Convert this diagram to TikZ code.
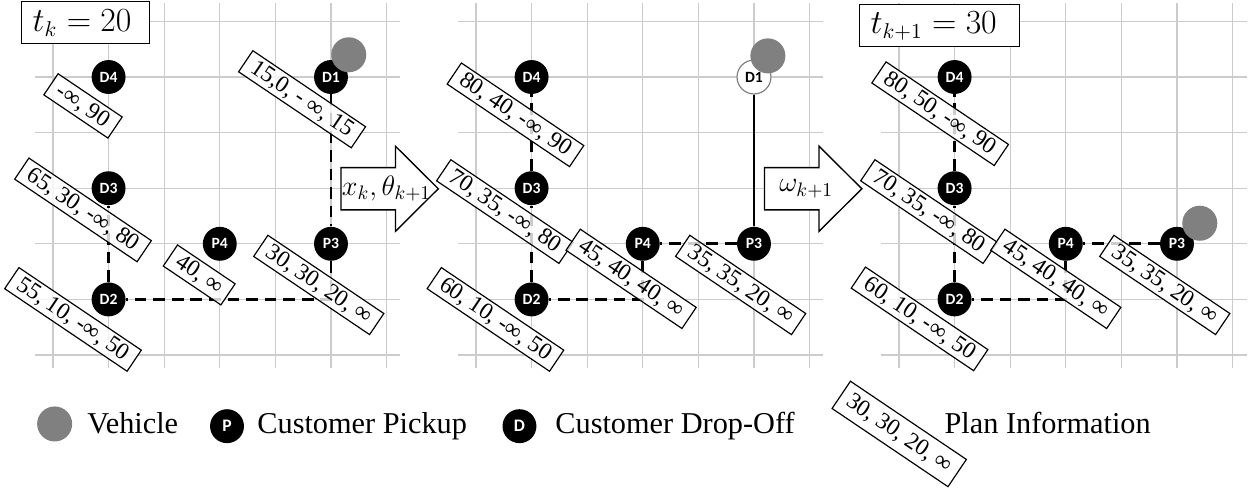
\documentclass[tikz,border=0pt]{standalone}
\usepackage{fontspec}
\setmainfont{Liberation Serif}
\newfontfamily\stopfont{Carlito}

\tikzset{
  gridline/.style={gray!40, line width=.7pt},
  stop/.style={circle, fill=black, text=white, inner sep=0pt, minimum size=.61cm,
    font=\stopfont\bfseries\fontsize{8}{9}\selectfont},
  served/.style={stop, fill=white, draw=gray, line width=.6pt, text=black},
  vehicle/.style={circle, fill=gray, inner sep=0pt, minimum size=.63cm},
  plan/.style={draw, line width=.6pt, fill=white, fill opacity=.8, text opacity=1,
    rotate=-34, inner xsep=4.5pt, inner ysep=1.6pt, font=\fontsize{12}{14}\selectfont},
  route/.style={line width=1.5pt, dash pattern=on 6pt off 3.5pt},
  fixed/.style={line width=1.5pt},
  timebox/.style={draw, line width=.6pt, fill=white, anchor=north west, inner xsep=.2cm,
    minimum height=.76cm, font=\fontsize{16}{18}\selectfont},
  blockarrow/.style={draw, line width=.7pt, fill=white},
  legend/.style={anchor=base west, inner sep=0pt, font=\fontsize{15.5}{18}\selectfont}
}

\begin{document}
\begin{tikzpicture}
  \useasboundingbox (-0.953,-2.392) rectangle (21.583,6.385);

  % street grid of the three snapshots
  \foreach \s in {0,7.608,15.216} {
    \foreach \i in {0,...,6} {
      \draw[gridline] (\s-.32,\i) -- (\s+6.25,\i);
      \draw[gridline] (\s+\i,-.23) -- (\s+\i,6.33);
    }
  }

  % state at t_k
  \begin{scope}
    \node[stop] (D4a) at (1,5) {D4};
    \node[stop] (D1a) at (5,5) {D1};
    \node[stop] (D3a) at (1,3) {D3};
    \node[stop] (P4a) at (3,2) {P4};
    \node[stop] (P3a) at (5,2) {P3};
    \node[stop] (D2a) at (1,1) {D2};

    \draw[route] (D1a) -- (P3a)
                 (P3a) |- (D2a)
                 (D2a) -- (D3a);

    \node[plan] (lD4a) at (0.54,4.48) {-∞, 90};
    \node[plan] (lD1a) at (4.48,4.60) {15,0, - ∞, 15};
    \node[plan] (lD3a) at (0.54,2.61) {65, 30, -∞, 80};
    \node[plan] (lP4a) at (2.63,1.44) {40, ∞};
    \node[plan] (lP3a) at (4.78,1.26) {30, 30, 20, ∞};
    \node[plan] (lD2a) at (0.36,0.64) {55, 10, -∞, 50};

    \node[vehicle] (Va) at (5.32,5.40) {};
    \node[timebox, text width=1.9cm] (ta) at (-0.576,6.367) {$t_k = 20$};

    \draw[blockarrow] (5.18,2.61) -- (6.16,2.61) -- (6.16,2.225) -- (6.93,2.99)
      -- (6.16,3.755) -- (6.16,3.37) -- (5.18,3.37) -- cycle;
    \node[font=\fontsize{14}{16}\selectfont] (xa) at (6.0,2.99) {$x_k,\theta_{k+1}$};
  \end{scope}

  % after the decision
  \begin{scope}[xshift=7.608cm]
    \node[stop]   (D4b) at (1,5) {D4};
    \node[served] (D1b) at (5,5) {D1};
    \node[stop]   (D3b) at (1,3) {D3};
    \node[stop]   (P4b) at (3,2) {P4};
    \node[stop]   (P3b) at (5,2) {P3};
    \node[stop]   (D2b) at (1,1) {D2};

    \draw[fixed] (D1b) -- (P3b);
    \draw[route] (P3b) -- (P4b)
                 (P4b) |- (D2b)
                 (D2b) -- (D3b)
                 (D3b) -- (D4b);

    \node[plan] (lD4b) at (0.71,4.32) {80, 40, -∞, 90};
    \node[plan] (lD3b) at (0.52,2.58) {70, 35, -∞, 80};
    \node[plan] (lP4b) at (2.79,1.37) {45, 40, 40, ∞};
    \node[plan] (lP3b) at (4.76,1.26) {35, 35, 20, ∞};
    \node[plan] (lD2b) at (0.35,0.64) {60, 10, -∞, 50};

    \node[vehicle] (Vb) at (5.25,5.38) {};

    \draw[blockarrow] (5.19,2.61) -- (6.17,2.61) -- (6.17,2.225) -- (6.94,2.99)
      -- (6.17,3.755) -- (6.17,3.37) -- (5.19,3.37) -- cycle;
    \node[font=\fontsize{14}{16}\selectfont] (wb) at (5.94,2.99) {$\omega_{k+1}$};
  \end{scope}

  % state at t_{k+1}
  \begin{scope}[xshift=15.216cm]
    \node[stop] (D4c) at (1,5) {D4};
    \node[stop] (D3c) at (1,3) {D3};
    \node[stop] (P4c) at (3,2) {P4};
    \node[stop] (P3c) at (5,2) {P3};
    \node[stop] (D2c) at (1,1) {D2};

    \draw[route] (P3c) -- (P4c)
                 (P4c) |- (D2c)
                 (D2c) -- (D3c)
                 (D3c) -- (D4c);

    \node[plan] (lD4c) at (0.74,4.34) {80, 50, -∞, 90};
    \node[plan] (lD3c) at (0.54,2.58) {70, 35, -∞, 80};
    \node[plan] (lP4c) at (2.82,1.37) {45, 40, 40, ∞};
    \node[plan] (lP3c) at (4.78,1.26) {35, 35, 20, ∞};
    \node[plan] (lD2c) at (0.37,0.65) {60, 10, -∞, 50};

    \node[vehicle] (Vc) at (5.41,2.37) {};
    \node[timebox, text width=2.48cm] (tc) at (-0.72,6.313) {$t_{k+1} = 30$};
  \end{scope}

  % legend
  \node[vehicle] (Vl) at (0.03,-1.24) {};
  \node[legend] (vl) at (0.61,-1.42) {Vehicle};
  \node[stop, font=\stopfont\bfseries\fontsize{9}{10}\selectfont] (Pl) at (3.13,-1.28) {P};
  \node[legend] (pl) at (3.67,-1.42) {Customer Pickup};
  \node[stop, font=\stopfont\bfseries\fontsize{9}{10}\selectfont] (Dl) at (8.39,-1.28) {D};
  \node[legend] (dl) at (9.03,-1.42) {Customer Drop-Off};
  \node[plan, inner ysep=3.5pt] (ll) at (15.22,-1.42) {30, 30, 20, ∞};
  \node[legend] (il) at (16.03,-1.42) {Plan Information};
\end{tikzpicture}
\end{document}
